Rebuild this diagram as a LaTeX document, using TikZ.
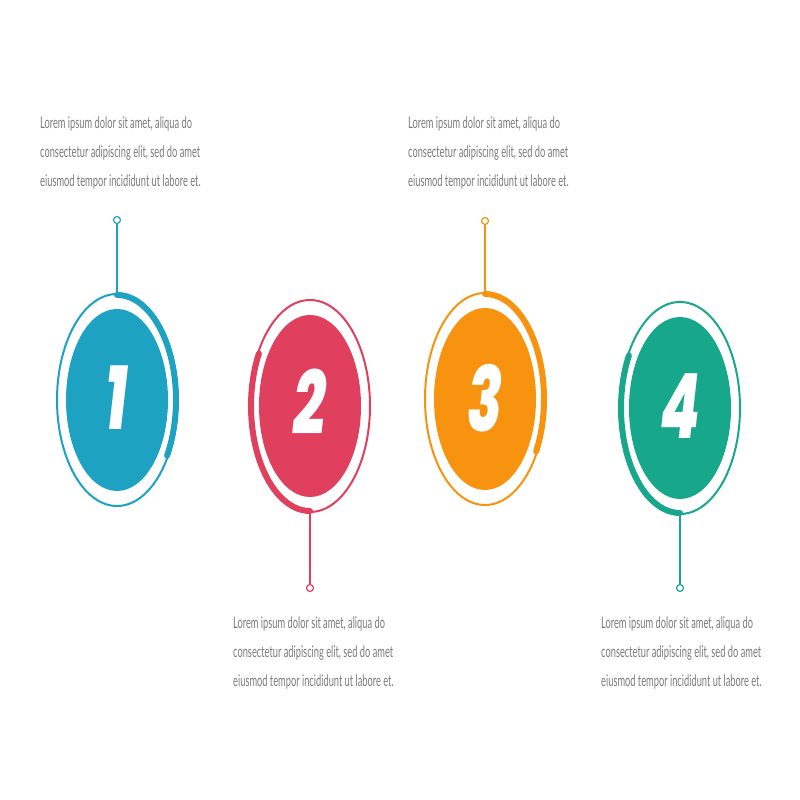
\documentclass[tikz,border=0pt]{standalone}
\usepackage{fontspec}
\usepackage{xcolor}
\usepackage{tikz}
\usetikzlibrary{positioning,shapes.geometric}

\newfontfamily\loremfont[FakeStretch=0.58]{Lato}
\newfontfamily\numfont[FakeStretch=0.64]{Poppins ExtraBold Italic}

\definecolor{numblue}{HTML}{1DA2C2}
\definecolor{numred}{HTML}{E0405E}
\definecolor{numorange}{HTML}{F7930F}
\definecolor{numgreen}{HTML}{17A88C}
\definecolor{lorem}{HTML}{7A7A7A}

\begin{document}
\begin{tikzpicture}[x=1pt, y=1pt,
		ring/.style={ellipse, draw=#1, line width=2pt, minimum width=120pt, minimum height=212pt, inner sep=0pt},
		disc/.style={ellipse, fill=#1, minimum width=102pt, minimum height=182pt, inner sep=0pt},
		digit/.style={text=white, font=\numfont\fontsize{90}{90}\selectfont},
		pin/.style={circle, draw=#1, fill=white, line width=1.2pt, minimum size=7pt, inner sep=0pt},
		stem/.style={draw=#1, line width=1.3pt},
		band/.style={draw=#1, line width=6pt, line cap=round},
		blurb/.style={anchor=north west, inner sep=0pt, align=left, text=lorem, font=\loremfont\fontsize{16}{29}\selectfont}]
		\useasboundingbox (0,0) rectangle (800,800);

		\node[ring=numblue] (ring1) at (117,400) {};
		\node[disc=numblue] (disc1) at (117,400) {};
		\node[digit] (num1) at (117,402) {1};
		\node[pin=numblue] (pin1) at (117,580) {};
		\draw[stem=numblue] (ring1.north) -- (pin1);
		\draw[band=numblue] (ring1.center) ++(90:59 and 105) arc[start angle=90, end angle=-32, x radius=59, y radius=105];

		\node[ring=numred] (ring2) at (310,394) {};
		\node[disc=numred] (disc2) at (310,394) {};
		\node[digit] (num2) at (310,398) {2};
		\node[pin=numred] (pin2) at (310,212) {};
		\draw[stem=numred] (ring2.south) -- (pin2);
		\draw[band=numred] (ring2.center) ++(150:59 and 105) arc[start angle=150, end angle=270, x radius=59, y radius=105];

		\node[ring=numorange] (ring3) at (485,401) {};
		\node[disc=numorange] (disc3) at (485,401) {};
		\node[digit] (num3) at (485,402) {3};
		\node[pin=numorange] (pin3) at (485,579) {};
		\draw[stem=numorange] (ring3.north) -- (pin3);
		\draw[band=numorange] (ring3.center) ++(90:59 and 105) arc[start angle=90, end angle=-30, x radius=59, y radius=105];

		\node[ring=numgreen] (ring4) at (680,392) {};
		\node[disc=numgreen] (disc4) at (680,392) {};
		\node[digit] (num4) at (680,394) {4};
		\node[pin=numgreen] (pin4) at (680,212) {};
		\draw[stem=numgreen] (ring4.south) -- (pin4);
		\draw[band=numgreen] (ring4.center) ++(150:59 and 105) arc[start angle=150, end angle=270, x radius=59, y radius=105];

		\node[blurb] (text1) at (40,683) {Lorem ipsum dolor sit amet, aliqua do\\consectetur adipiscing elit, sed do amet\\eiusmod tempor incididunt ut labore et.};
		\node[blurb] (text2) at (233,183) {Lorem ipsum dolor sit amet, aliqua do\\consectetur adipiscing elit, sed do amet\\eiusmod tempor incididunt ut labore et.};
		\node[blurb] (text3) at (408,683) {Lorem ipsum dolor sit amet, aliqua do\\consectetur adipiscing elit, sed do amet\\eiusmod tempor incididunt ut labore et.};
		\node[blurb] (text4) at (601,183) {Lorem ipsum dolor sit amet, aliqua do\\consectetur adipiscing elit, sed do amet\\eiusmod tempor incididunt ut labore et.};
	\end{tikzpicture}
\end{document}
